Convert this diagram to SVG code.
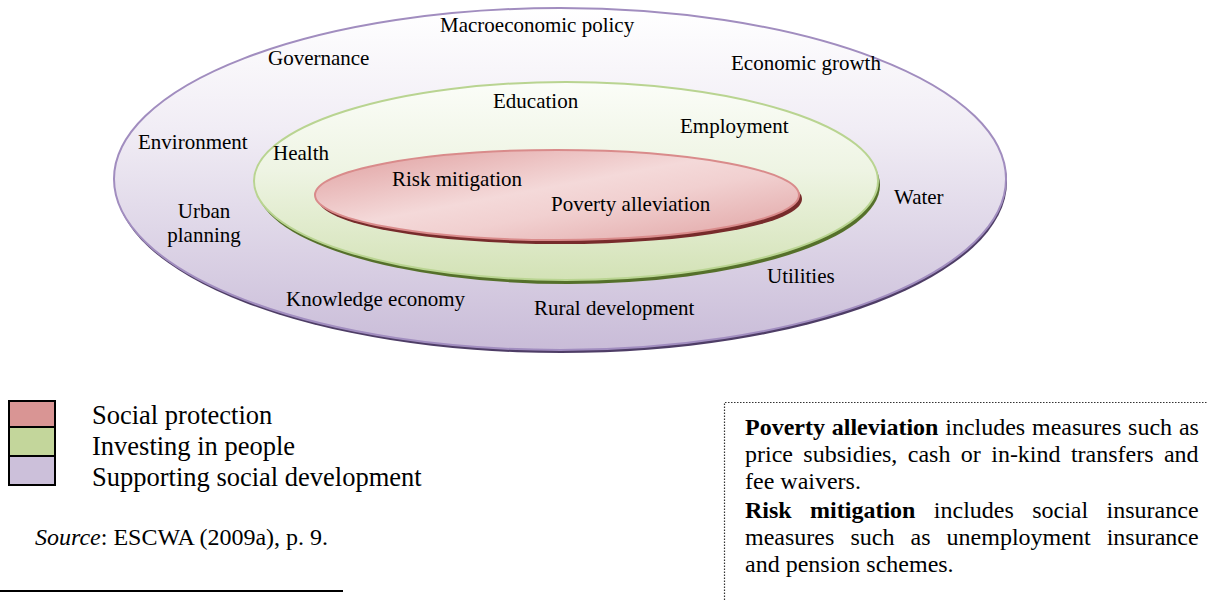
<svg xmlns="http://www.w3.org/2000/svg" width="1207" height="600" viewBox="0 0 1207 600">
  <style>
    .lbl { font-family: "Liberation Serif", "Times New Roman", serif; font-size: 21px; fill: #000; }
    .leg { font-family: "Liberation Serif", "Times New Roman", serif; font-size: 26.5px; fill: #000; }
    .body { font-family: "Liberation Serif", "Times New Roman", serif; font-size: 24px; fill: #000; }
    .b { font-weight: bold; }
    .swatch { stroke: #000; stroke-width: 2; }
  </style>
  <defs>
    <linearGradient id="gOuter" x1="0" y1="0" x2="0" y2="1">
      <stop offset="0" stop-color="#ffffff"/>
      <stop offset="0.35" stop-color="#f1edf5"/>
      <stop offset="1" stop-color="#c9bcd8"/>
    </linearGradient>
    <linearGradient id="gMid" x1="0" y1="0" x2="0" y2="1">
      <stop offset="0" stop-color="#fbfdf8"/>
      <stop offset="0.45" stop-color="#eef4e3"/>
      <stop offset="1" stop-color="#d3e2b6"/>
    </linearGradient>
    <linearGradient id="gInner" x1="0" y1="0" x2="1" y2="1">
      <stop offset="0" stop-color="#df9d9d"/>
      <stop offset="0.45" stop-color="#f4d9d9"/>
      <stop offset="0.6" stop-color="#f1d0d0"/>
      <stop offset="1" stop-color="#e0a2a2"/>
    </linearGradient>
  </defs>

  <!-- supporting social development ring -->
  <g id="node-outer">
    <ellipse cx="561" cy="182" rx="446" ry="171" fill="#4e3d66"/>
    <ellipse cx="560" cy="179" rx="446" ry="171" fill="url(#gOuter)" stroke="#a18dbf" stroke-width="2"/>
  </g>

  <!-- investing in people ring -->
  <g id="node-middle">
    <ellipse cx="568" cy="185" rx="312" ry="99" fill="#55702a"/>
    <ellipse cx="566" cy="181" rx="312" ry="99" fill="url(#gMid)" stroke="#b9d491" stroke-width="2"/>
  </g>

  <!-- social protection core -->
  <g id="node-inner">
    <ellipse cx="560" cy="199" rx="242" ry="45" fill="#772b2b"/>
    <ellipse cx="557" cy="195" rx="242" ry="45" fill="url(#gInner)" stroke="#d98b8b" stroke-width="2"/>
  </g>

  <g id="labels">
    <text class="lbl" x="440" y="32">Macroeconomic policy</text>
    <text class="lbl" x="268" y="65">Governance</text>
    <text class="lbl" x="731" y="70">Economic growth</text>
    <text class="lbl" x="493" y="108">Education</text>
    <text class="lbl" x="680" y="133">Employment</text>
    <text class="lbl" x="138" y="149">Environment</text>
    <text class="lbl" x="273" y="160">Health</text>
    <text class="lbl" x="392" y="186">Risk mitigation</text>
    <text class="lbl" x="551" y="211">Poverty alleviation</text>
    <text class="lbl" x="894" y="204">Water</text>
    <text class="lbl" x="204" y="218" text-anchor="middle">Urban</text>
    <text class="lbl" x="204" y="242" text-anchor="middle">planning</text>
    <text class="lbl" x="767" y="283">Utilities</text>
    <text class="lbl" x="286" y="306">Knowledge economy</text>
    <text class="lbl" x="534" y="315">Rural development</text>
  </g>

  <!-- key -->
  <g id="legend">
    <rect class="swatch" x="9" y="401" width="46" height="26" fill="#d99594"/>
    <rect class="swatch" x="9" y="427" width="46" height="29" fill="#c3d69b"/>
    <rect class="swatch" x="9" y="456" width="46" height="29" fill="#ccc0da"/>
    <text class="leg" x="92" y="424">Social protection</text>
    <text class="leg" x="92" y="455">Investing in people</text>
    <text class="leg" x="92" y="486">Supporting social development</text>
  </g>

  <g id="source">
    <text class="body" x="35" y="545"><tspan font-style="italic">Source</tspan>: ESCWA (2009a), p. 9.</text>
    <line x1="0" y1="591" x2="343" y2="591" stroke="#000" stroke-width="2"/>
  </g>

  <!-- definitions box -->
  <g id="note">
    <path d="M724.5 600 V402.5 H1207" fill="none" stroke="#333" stroke-width="1.2" stroke-dasharray="1.5 1.5"/>
    <text class="body" x="745" y="435" word-spacing="0.8"><tspan class="b">Poverty alleviation</tspan> includes measures such as</text>
    <text class="body" x="745" y="462" word-spacing="4.4">price subsidies, cash or in-kind transfers and</text>
    <text class="body" x="745" y="489">fee waivers.</text>
    <text class="body" x="745" y="518" word-spacing="12.4"><tspan class="b">Risk mitigation</tspan> includes social insurance</text>
    <text class="body" x="745" y="545" word-spacing="10.1">measures such as unemployment insurance</text>
    <text class="body" x="745" y="572">and pension schemes.</text>
  </g>
</svg>
